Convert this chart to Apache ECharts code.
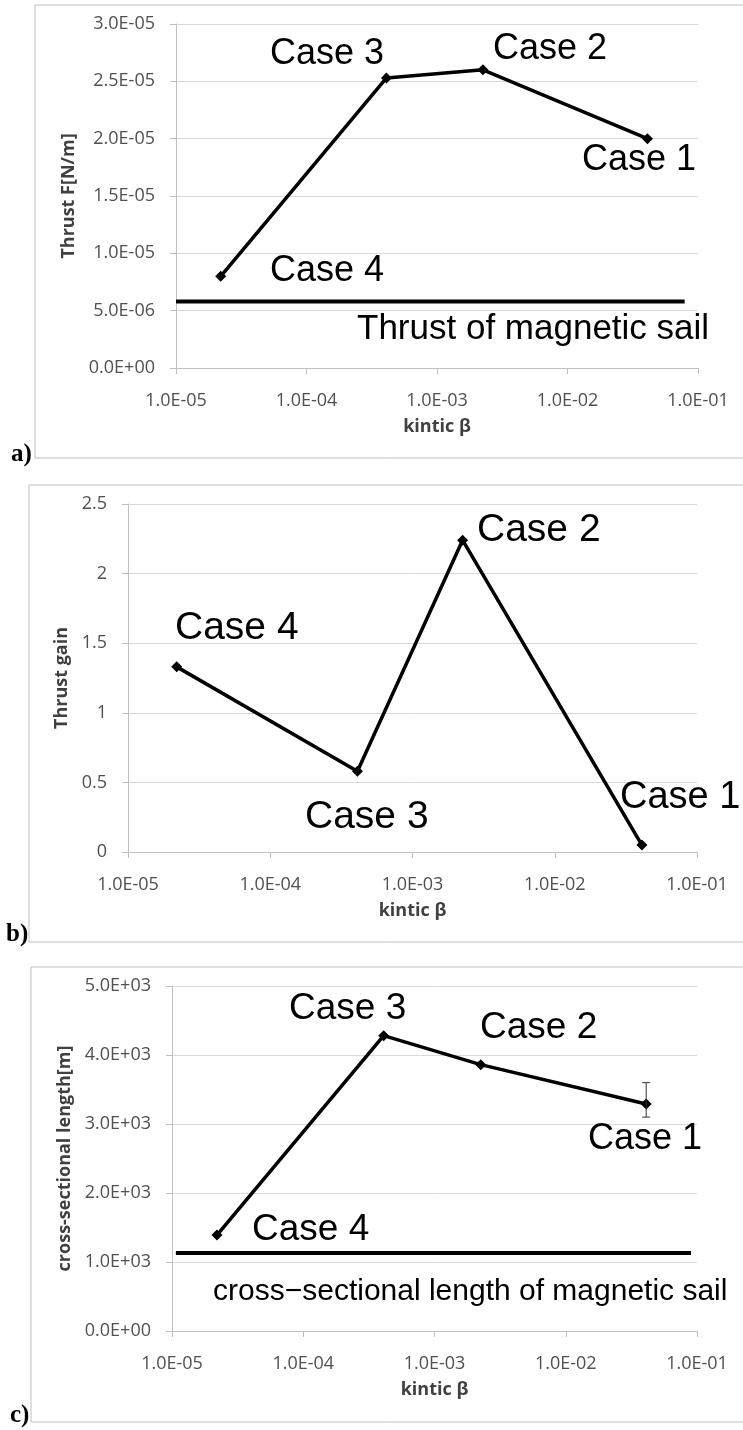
<!DOCTYPE html>
<html>
<head>
<meta charset="utf-8">
<script src="https://cdn.jsdelivr.net/npm/echarts@6/dist/echarts.min.js"></script>
<style>
html,body{margin:0;padding:0;background:#fff;}
#chart{width:743px;height:1430px;}
</style>
</head>
<body>
<div id="chart"></div>
<script>
// ---- data ----
const caseNames = ['Case 4', 'Case 3', 'Case 2', 'Case 1'];
const kineticBeta = [2.2e-5, 4.1e-4, 2.25e-3, 4.1e-2];
const thrust = [8.0e-6, 2.53e-5, 2.60e-5, 2.0e-5];
const thrustGain = [1.33, 0.58, 2.24, 0.05];
const crossLength = [1390, 4280, 3860, 3290];
const crossLengthErrLow = [null, null, null, 3100];
const crossLengthErrHigh = [null, null, null, 3600];
const sailThrust = 5.8e-6;
const sailThrustRange = [1.0e-5, 7.9e-2];
const sailLength = 1130;
const sailLengthRange = [1.07e-5, 9.0e-2];
const xTicks = ['1.0E-05', '1.0E-04', '1.0E-03', '1.0E-02', '1.0E-01'];

// ---- helpers ----
function sci(v) {
  const s = Number(v).toExponential(1);
  const parts = s.split('e');
  let e = parseInt(parts[1], 10);
  const sign = e < 0 ? '-' : '+';
  e = Math.abs(e);
  return parts[0] + 'E' + sign + (e < 10 ? '0' + e : '' + e);
}
function xLabel(v) {
  const k = Math.round(Math.log10(v)) + 5;
  return xTicks[k] !== undefined ? xTicks[k] : sci(v);
}
function pairs(xs, ys) { return xs.map((x, i) => [x, ys[i]]); }

const tickFont = {fontFamily: 'Open Sans', fontSize: 18, color: '#505050'};
const nameFont = {fontFamily: 'Open Sans', fontSize: 18, fontWeight: 'bold', color: '#404040'};
const gridGray = '#d9d9d9';
const axisGray = '#bfbfbf';

function xAxisDef(gridIndex) {
  return {
    type: 'log', logBase: 10, gridIndex, min: 1e-5, max: 1e-1,
    name: 'kintic β', nameLocation: 'middle', nameGap: 50, nameTextStyle: nameFont,
    axisLine: {show: true, lineStyle: {color: axisGray, width: 1}},
    axisTick: {show: true, length: 6, lineStyle: {color: axisGray}},
    minorTick: {show: false},
    splitLine: {show: false},
    axisLabel: Object.assign({margin: 24, formatter: xLabel}, tickFont)
  };
}
function yAxisDef(gridIndex, name, min, max, interval, fmt, gap) {
  return {
    type: 'value', gridIndex, min, max, interval,
    name, nameLocation: 'middle', nameGap: gap, nameTextStyle: nameFont,
    axisLine: {show: true, lineStyle: {color: axisGray, width: 1}},
    axisTick: {show: true, length: 6, lineStyle: {color: axisGray}},
    splitLine: {show: true, lineStyle: {color: gridGray, width: 1}},
    axisLabel: Object.assign({margin: 21, formatter: fmt}, tickFont)
  };
}
function mainLine(idx, ys) {
  return {
    type: 'line', xAxisIndex: idx, yAxisIndex: idx,
    data: pairs(kineticBeta, ys),
    symbol: 'diamond', symbolSize: 11,
    lineStyle: {color: '#000', width: 3.5},
    itemStyle: {color: '#000'},
    z: 5, silent: true, animation: false
  };
}
function refLine(idx, range, y) {
  return {
    type: 'line', xAxisIndex: idx, yAxisIndex: idx,
    data: [[range[0], y], [range[1], y]],
    symbol: 'none', lineStyle: {color: '#000', width: 4},
    z: 4, silent: true, animation: false
  };
}

function txt(text, x, y, size, align) {
  return {type: 'text', z: 20, style: {text, x, y, font: 'normal ' + size + 'px "Liberation Sans"', fill: '#000', align: align || 'left', verticalAlign: 'middle'}};
}
function panelLabel(text, x, y) {
  return {type: 'text', z: 20, style: {text, x, y, font: 'bold 25px "Liberation Serif"', fill: '#000', align: 'left', verticalAlign: 'middle'}};
}
function box(x, y, w, h) {
  return {type: 'rect', z: 1, shape: {x, y, width: w, height: h}, style: {fill: 'none', stroke: axisGray, lineWidth: 1}};
}

const chart = echarts.init(document.getElementById('chart'), null, {renderer: 'canvas'});
chart.setOption({
  animation: false,
  backgroundColor: '#fff',
  grid: [
    {left: 176, top: 24, width: 522, height: 344},
    {left: 128, top: 504, width: 569, height: 348},
    {left: 172, top: 986, width: 525, height: 345}
  ],
  xAxis: [xAxisDef(0), xAxisDef(1), xAxisDef(2)],
  yAxis: [
    yAxisDef(0, 'Thrust F[N/m]', 0, 3e-5, 5e-6, sci, 95),
    yAxisDef(1, 'Thrust gain', 0, 2.5, 0.5, null, 56),
    yAxisDef(2, 'cross-sectional length[m]', 0, 5000, 1000, sci, 96)
  ],
  series: [
    mainLine(0, thrust),
    refLine(0, sailThrustRange, sailThrust),
    mainLine(1, thrustGain),
    mainLine(2, crossLength),
    refLine(2, sailLengthRange, sailLength),
    {
      type: 'custom', xAxisIndex: 2, yAxisIndex: 2, z: 6, silent: true, animation: false,
      data: kineticBeta.map((x, i) => [x, crossLengthErrLow[i], crossLengthErrHigh[i]]).filter(d => d[1] !== null),
      renderItem: function (params, api) {
        const lo = api.coord([api.value(0), api.value(1)]);
        const hi = api.coord([api.value(0), api.value(2)]);
        const w = 4;
        const st = {stroke: '#333', lineWidth: 1};
        return {type: 'group', children: [
          {type: 'line', shape: {x1: lo[0], y1: lo[1], x2: hi[0], y2: hi[1]}, style: st},
          {type: 'line', shape: {x1: lo[0] - w, y1: lo[1], x2: lo[0] + w, y2: lo[1]}, style: st},
          {type: 'line', shape: {x1: hi[0] - w, y1: hi[1], x2: hi[0] + w, y2: hi[1]}, style: st}
        ]};
      }
    }
  ],
  graphic: [
    box(35, 5, 730, 453),
    box(29, 485, 740, 457),
    box(31, 967, 740, 455),
    panelLabel('a)', 11, 455),
    panelLabel('b)', 6, 935),
    panelLabel('c)', 10, 1416),
    // panel a annotations
    txt(caseNames[1], 270, 54, 36),
    txt(caseNames[2], 493, 49, 36),
    txt(caseNames[3], 582, 160, 36),
    txt(caseNames[0], 270, 271, 36),
    txt('Thrust of magnetic sail', 357, 329, 35),
    // panel b annotations
    txt(caseNames[0], 175, 628, 39),
    txt(caseNames[2], 477, 530, 39),
    txt(caseNames[3], 620, 798, 38),
    txt(caseNames[1], 305, 817, 39),
    // panel c annotations
    txt(caseNames[1], 289, 1009, 37),
    txt(caseNames[2], 480, 1028, 37),
    txt(caseNames[3], 588, 1139, 36),
    txt(caseNames[0], 252, 1230, 37),
    txt('cross\u2212sectional length of magnetic sail', 213, 1292, 30)
  ]
});
</script>
</body>
</html>
